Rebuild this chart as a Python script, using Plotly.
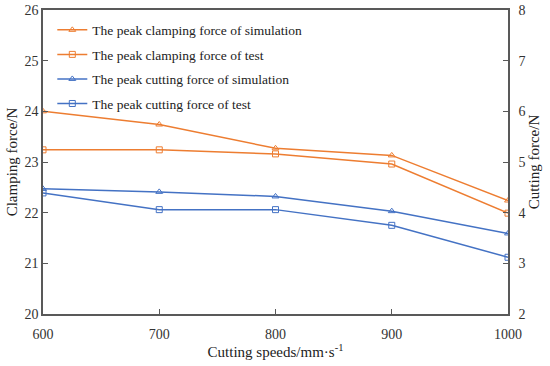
import plotly.graph_objects as go

speeds = [600, 700, 800, 900, 1000]
clamp_sim = [24.00, 23.74, 23.27, 23.13, 22.24]
clamp_test = [23.24, 23.24, 23.16, 22.96, 21.99]
cut_sim = [4.47, 4.41, 4.32, 4.03, 3.59]
cut_test = [4.39, 4.06, 4.06, 3.75, 3.12]

names = ["The peak clamping force of simulation", "The peak clamping force of test",
         "The peak cutting force of simulation", "The peak cutting force of test"]
orange = "#ED7D31"
blue = "#4472C4"

fig = go.Figure()
series = [(clamp_sim, orange, "triangle-up-open", "y"),
          (clamp_test, orange, "square-open", "y"),
          (cut_sim, blue, "triangle-up-open", "y2"),
          (cut_test, blue, "square-open", "y2")]
for i, (vals, col, sym, ax) in enumerate(series):
    fig.add_trace(go.Scatter(x=speeds, y=vals, name=names[i], yaxis=ax,
                             mode="lines+markers", legendgroup=str(i),
                             line=dict(color=col, width=1.5),
                             marker=dict(symbol=sym, size=6, color=col, line=dict(width=1, color=col))))

font = "Liberation Serif, Times New Roman, serif"
axcol = "#595959"
tickfont = dict(family=font, size=14, color="#333")
titlefont = dict(family=font, size=15, color="#222")
fig.update_layout(
    width=550, height=366,
    margin=dict(l=43, r=42, t=10, b=52),
    paper_bgcolor="white", plot_bgcolor="white",
    font=dict(family=font, size=13, color="#222"),
    showlegend=True,
    legend=dict(x=0.02, y=0.985, xanchor="left", yanchor="top", bgcolor="rgba(0,0,0,0)",
                font=dict(family=font, size=13.5, color="#222"), tracegroupgap=4),
    xaxis=dict(range=[600, 1000], tickvals=speeds, showgrid=False, zeroline=False,
               showline=True, linecolor=axcol, linewidth=1.5, mirror=True, automargin=False,
               ticks="inside", ticklen=5, tickcolor=axcol, tickfont=tickfont, ticklabelstandoff=6,
               title=dict(text="Cutting speeds/mm·s<sup>-1</sup>", font=titlefont, standoff=4)),
    yaxis=dict(range=[20, 26], dtick=1, showgrid=False, zeroline=False, automargin=False,
               showline=True, linecolor=axcol, linewidth=1.5, tickfont=tickfont,
               ticks="inside", ticklen=5, tickcolor=axcol,
               title=dict(text="Clamping force/N", font=titlefont, standoff=3)),
    yaxis2=dict(range=[2, 8], dtick=1, overlaying="y", side="right", showgrid=False, zeroline=False,
                showline=True, linecolor=axcol, linewidth=1.5, automargin=False, tickfont=tickfont,
                ticks="inside", ticklen=5, tickcolor=axcol, ticklabelstandoff=6,
                title=dict(text="Cutting force/N", font=titlefont, standoff=3)),
)
fig.write_html("out.html", config={"displayModeBar": False},
               post_script="document.body.style.margin='0';")
